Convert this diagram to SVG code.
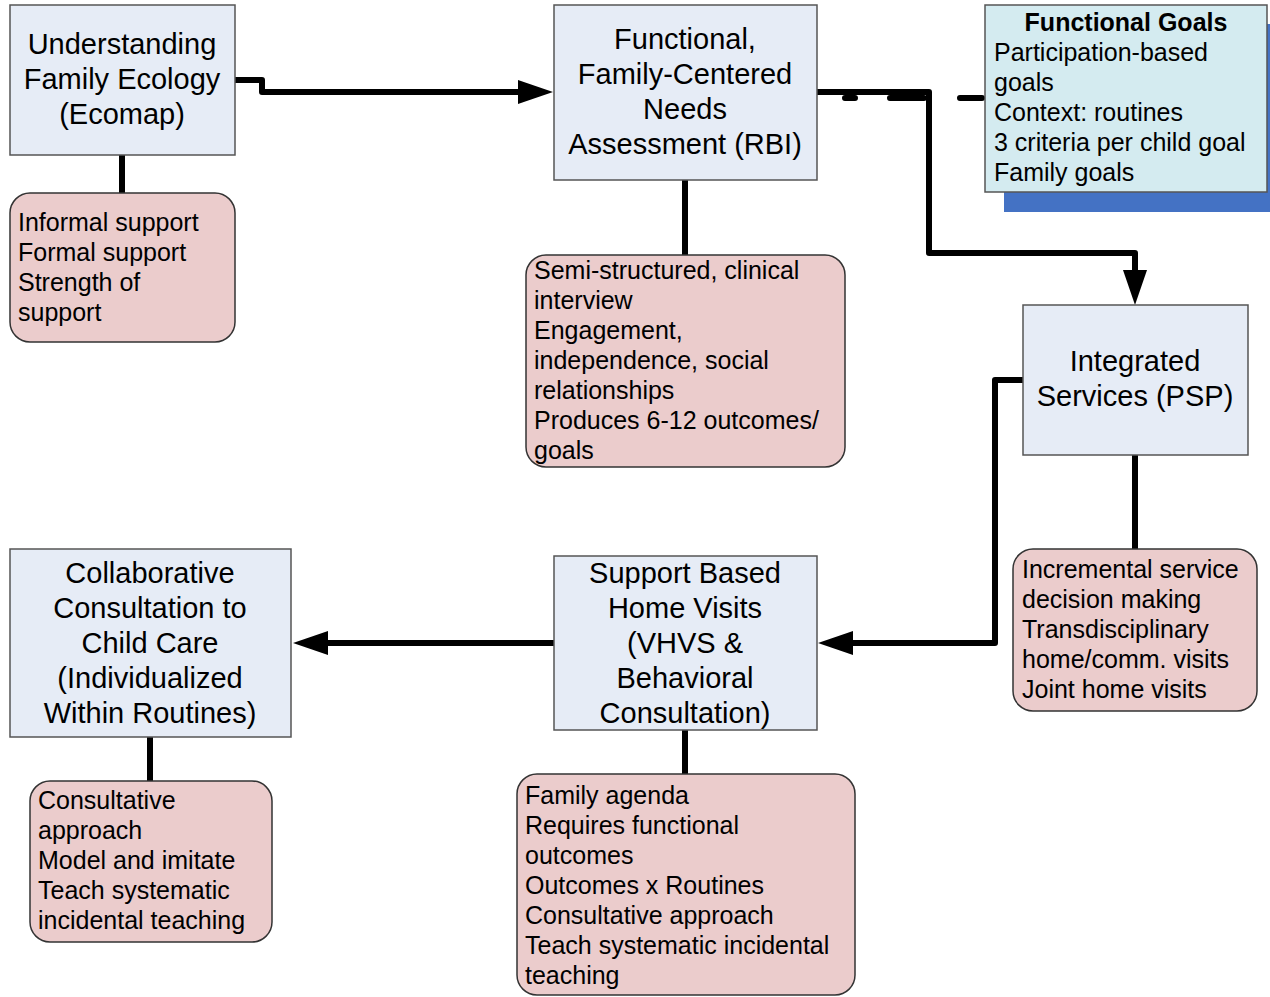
<svg xmlns="http://www.w3.org/2000/svg" width="1270" height="997" viewBox="0 0 1270 997">
  <style>
    .node { fill: #e6ecf6; stroke: #555; stroke-width: 1.5; }
    .note { fill: #ebcccc; stroke: #333; stroke-width: 1.5; }
    .goal { fill: #d4ebf0; stroke: #555; stroke-width: 1.5; }
    .shadow { fill: #4472c4; }
    .title { font-family: "Liberation Sans", Arial, sans-serif; font-size: 29px; fill: #000; text-anchor: middle; }
    .body { font-family: "Liberation Sans", Arial, sans-serif; font-size: 25px; fill: #000; }
    .bold { font-weight: bold; text-anchor: middle; }
    .wire { fill: none; stroke: #000; stroke-width: 6; stroke-linecap: round; stroke-linejoin: round; }
    .dash { stroke-dasharray: 10 35 34 36 22 20; }
  </style>
  <defs>
    <marker id="arrow" markerUnits="userSpaceOnUse" markerWidth="36" markerHeight="24" refX="1" refY="12" orient="auto">
      <path d="M0,0 L35,12 L0,24 z" fill="#000"/>
    </marker>
  </defs>
  <rect width="1270" height="997" fill="#fff"/>

  <!-- connectors -->
  <g id="connectors">
    <path class="wire" d="M235,80 H262 V92 H519" marker-end="url(#arrow)"/>
    <path class="wire" d="M122,155 V193"/>
    <path class="wire" d="M685,180 V255"/>
    <path class="wire" d="M817,92 H929 V253 H1135 V271" marker-end="url(#arrow)"/>
    <path class="wire dash" d="M845,98 H982"/>
    <path class="wire" d="M1135,455 V549"/>
    <path class="wire" d="M1023,380 H995 V643 H852" marker-end="url(#arrow)"/>
    <path class="wire" d="M554,643 H327" marker-end="url(#arrow)"/>
    <path class="wire" d="M685,730 V774"/>
    <path class="wire" d="M150,737 V781"/>
  </g>

  <!-- ecomap -->
  <g id="ecomap">
    <rect class="node" x="10" y="5" width="225" height="150"/>
    <text class="title" x="122" y="54">Understanding</text>
    <text class="title" x="122" y="89">Family Ecology</text>
    <text class="title" x="122" y="124">(Ecomap)</text>
  </g>
  <g id="ecomap-notes">
    <rect class="note" x="10" y="193" width="225" height="149" rx="20"/>
    <text class="body" x="18" y="231">Informal support</text>
    <text class="body" x="18" y="261">Formal support</text>
    <text class="body" x="18" y="291">Strength of</text>
    <text class="body" x="18" y="321">support</text>
  </g>

  <!-- needs assessment -->
  <g id="rbi">
    <rect class="node" x="554" y="5" width="263" height="175"/>
    <text class="title" x="685" y="49">Functional,</text>
    <text class="title" x="685" y="84">Family-Centered</text>
    <text class="title" x="685" y="119">Needs</text>
    <text class="title" x="685" y="154">Assessment (RBI)</text>
  </g>
  <g id="rbi-notes">
    <rect class="note" x="526" y="255" width="319" height="212" rx="20"/>
    <text class="body" x="534" y="279">Semi-structured, clinical</text>
    <text class="body" x="534" y="309">interview</text>
    <text class="body" x="534" y="339">Engagement,</text>
    <text class="body" x="534" y="369">independence, social</text>
    <text class="body" x="534" y="399">relationships</text>
    <text class="body" x="534" y="429">Produces 6-12 outcomes/</text>
    <text class="body" x="534" y="459">goals</text>
  </g>

  <!-- functional goals -->
  <g id="functional-goals">
    <rect class="shadow" x="1004" y="24" width="282" height="188"/>
    <rect class="goal" x="985" y="5" width="282" height="187"/>
    <text class="body bold" x="1126" y="31">Functional Goals</text>
    <text class="body" x="994" y="61">Participation-based</text>
    <text class="body" x="994" y="91">goals</text>
    <text class="body" x="994" y="121">Context: routines</text>
    <text class="body" x="994" y="151">3 criteria per child goal</text>
    <text class="body" x="994" y="181">Family goals</text>
  </g>

  <!-- integrated services -->
  <g id="psp">
    <rect class="node" x="1023" y="305" width="225" height="150"/>
    <text class="title" x="1135" y="371">Integrated</text>
    <text class="title" x="1135" y="406">Services (PSP)</text>
  </g>
  <g id="psp-notes">
    <rect class="note" x="1013" y="549" width="244" height="162" rx="20"/>
    <text class="body" x="1022" y="578">Incremental service</text>
    <text class="body" x="1022" y="608">decision making</text>
    <text class="body" x="1022" y="638">Transdisciplinary</text>
    <text class="body" x="1022" y="668">home/comm. visits</text>
    <text class="body" x="1022" y="698">Joint home visits</text>
  </g>

  <!-- home visits -->
  <g id="home-visits">
    <rect class="node" x="554" y="556" width="263" height="174"/>
    <text class="title" x="685" y="583">Support Based</text>
    <text class="title" x="685" y="618">Home Visits</text>
    <text class="title" x="685" y="653">(VHVS &amp;</text>
    <text class="title" x="685" y="688">Behavioral</text>
    <text class="title" x="685" y="723">Consultation)</text>
  </g>
  <g id="home-visits-notes">
    <rect class="note" x="517" y="774" width="338" height="221" rx="20"/>
    <text class="body" x="525" y="804">Family agenda</text>
    <text class="body" x="525" y="834">Requires functional</text>
    <text class="body" x="525" y="864">outcomes</text>
    <text class="body" x="525" y="894">Outcomes x Routines</text>
    <text class="body" x="525" y="924">Consultative approach</text>
    <text class="body" x="525" y="954">Teach systematic incidental</text>
    <text class="body" x="525" y="984">teaching</text>
  </g>

  <!-- child care consultation -->
  <g id="child-care">
    <rect class="node" x="10" y="549" width="281" height="188"/>
    <text class="title" x="150" y="583">Collaborative</text>
    <text class="title" x="150" y="618">Consultation to</text>
    <text class="title" x="150" y="653">Child Care</text>
    <text class="title" x="150" y="688">(Individualized</text>
    <text class="title" x="150" y="723">Within Routines)</text>
  </g>
  <g id="child-care-notes">
    <rect class="note" x="30" y="781" width="242" height="161" rx="20"/>
    <text class="body" x="38" y="809">Consultative</text>
    <text class="body" x="38" y="839">approach</text>
    <text class="body" x="38" y="869">Model and imitate</text>
    <text class="body" x="38" y="899">Teach systematic</text>
    <text class="body" x="38" y="929">incidental teaching</text>
  </g>
</svg>
